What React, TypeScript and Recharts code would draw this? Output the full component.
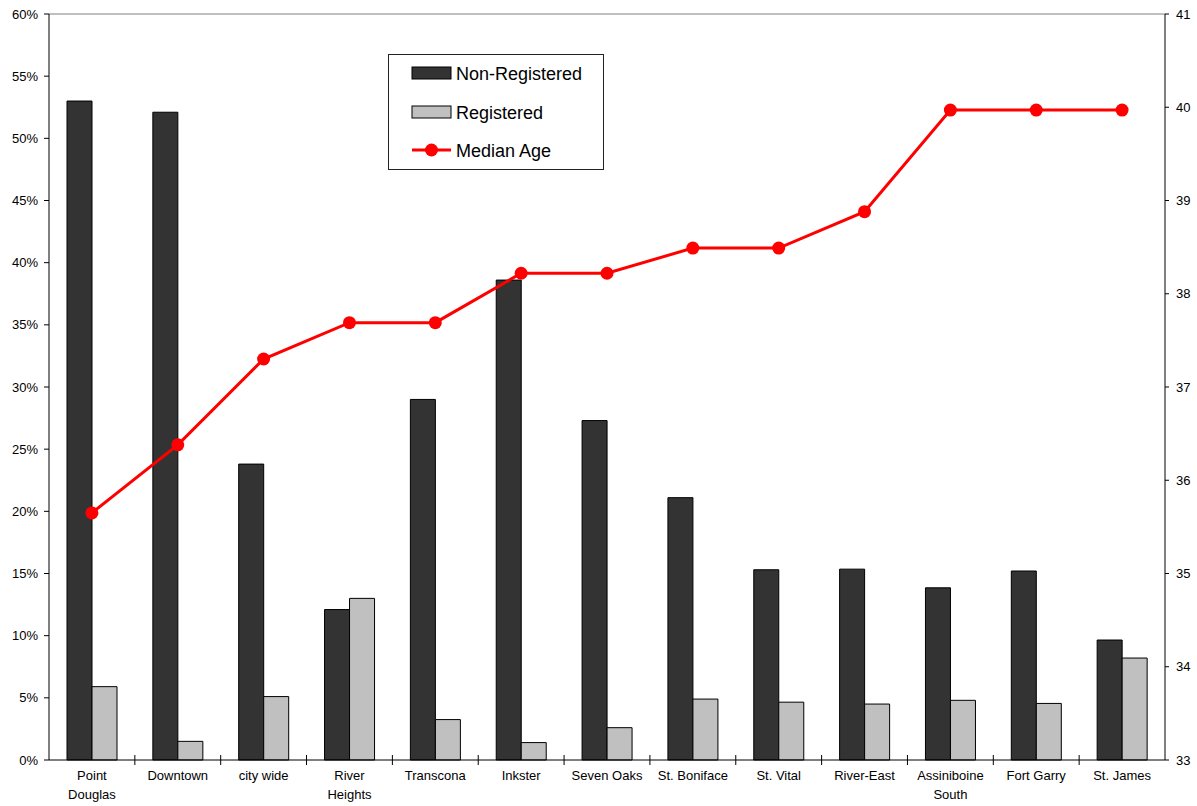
import { ComposedChart, Bar, Line, XAxis, YAxis, Legend, ReferenceLine } from 'recharts';

const areas = [
  'Point Douglas', 'Downtown', 'city wide', 'River Heights', 'Transcona', 'Inkster', 'Seven Oaks',
  'St. Boniface', 'St. Vital', 'River-East', 'Assiniboine South', 'Fort Garry', 'St. James',
];
// how each category label is broken onto lines under the axis
const tickLabels = [
  ['Point', 'Douglas'], ['Downtown'], ['city wide'], ['River', 'Heights'], ['Transcona'], ['Inkster'], ['Seven Oaks'],
  ['St. Boniface'], ['St. Vital'], ['River-East'], ['Assiniboine', 'South'], ['Fort Garry'], ['St. James'],
];
const nonRegistered = [53.0, 52.1, 23.8, 12.1, 29.0, 38.6, 27.3, 21.1, 15.3, 15.35, 13.85, 15.2, 9.65];
const registered = [5.9, 1.5, 5.1, 13.0, 3.25, 1.4, 2.6, 4.9, 4.65, 4.5, 4.8, 4.55, 8.2];
const medianAge = [35.65, 36.38, 37.3, 37.69, 37.69, 38.22, 38.22, 38.49, 38.49, 38.88, 39.97, 39.97, 39.97];

const pctTicks = [0, 5, 10, 15, 20, 25, 30, 35, 40, 45, 50, 55, 60];
const ageTicks = [33, 34, 35, 36, 37, 38, 39, 40, 41];

const chartData = areas.map((name, i) => ({
  name,
  nonReg: nonRegistered[i],
  reg: registered[i],
  age: medianAge[i],
}));

const FONT = 'Arial, "Liberation Sans", sans-serif';
const PLOT_W = 1165 - 49;
const STEP = PLOT_W / areas.length;

const CategoryTick = (props: any) => {
  const { x, y, index } = props;
  const lines = tickLabels[index] || [];
  return (
    <g>
      {index > 0 && <line x1={x - STEP / 2} x2={x - STEP / 2} y1={755} y2={765} stroke="#000" />}
      <text x={x} y={y} textAnchor="middle" fontSize={13} fontFamily={FONT} fill="#000">
        {lines.map((l: string, k: number) => (
          <tspan key={k} x={x} dy={k === 0 ? 12 : 19}>{l}</tspan>
        ))}
      </text>
    </g>
  );
};

const LegendBox = () => (
  <div style={{ border: '1px solid #222', background: '#fff', width: 214, height: 114, position: 'relative' }}>
    <svg width={214} height={114} style={{ position: 'absolute', left: 0, top: 0 }}>
      <rect x={23} y={12} width={39} height={12} fill="#333333" stroke="#000" />
      <text x={67} y={25} fontSize={18} fontFamily={FONT}>Non-Registered</text>
      <rect x={23} y={51} width={39} height={12} fill="#C0C0C0" stroke="#000" />
      <text x={67} y={64} fontSize={18} fontFamily={FONT}>Registered</text>
      <line x1={23} x2={62} y1={95} y2={95} stroke="#FF0000" strokeWidth={3} />
      <circle cx={42.5} cy={95} r={6.5} fill="#FF0000" />
      <text x={67} y={102} fontSize={18} fontFamily={FONT}>Median Age</text>
    </svg>
  </div>
);

export default function App() {
  return (
    <div style={{ position: 'absolute', left: 0, top: 0, background: '#fff' }}>
      <ComposedChart
        width={1197}
        height={806}
        data={chartData}
        margin={{ top: 14, right: 0, bottom: 0, left: 0 }}
        barGap={0}
        barCategoryGap="21%"
      >
        <XAxis
          dataKey="name"
          xAxisId="cat"
          height={46}
          interval={0}
          tick={<CategoryTick />}
          tickLine={false}
          axisLine={{ stroke: '#000' }}
        />
        <YAxis
          yAxisId="pct"
          width={49}
          domain={[0, 60]}
          ticks={pctTicks}
          tickFormatter={(v: number) => `${v}%`}
          tick={{ fontSize: 13, fontFamily: FONT, fill: '#000' }}
          tickSize={5}
          tickMargin={6}
          tickLine={{ stroke: '#000' }}
          axisLine={{ stroke: '#000' }}
        />
        <YAxis
          yAxisId="age"
          orientation="right"
          width={32}
          domain={[33, 41]}
          ticks={ageTicks}
          tick={{ fontSize: 13, fontFamily: FONT, fill: '#000' }}
          tickSize={4}
          tickMargin={7}
          tickLine={{ stroke: '#000' }}
          axisLine={{ stroke: '#000' }}
        />
        <ReferenceLine yAxisId="pct" xAxisId="cat" y={60} stroke="#808080" strokeWidth={1} />
        <Legend
          layout="horizontal"
          verticalAlign="middle"
          align="center"
          content={<LegendBox />}
          wrapperStyle={{ position: 'absolute', left: 388, top: 54, width: 216, height: 116 }}
        />
        <Bar
          xAxisId="cat"
          yAxisId="pct"
          dataKey="nonReg"
          name="Non-Registered"
          fill="#333333"
          stroke="#000"
          strokeWidth={1}
          barSize={25}
          isAnimationActive={false}
        />
        <Bar
          xAxisId="cat"
          yAxisId="pct"
          dataKey="reg"
          name="Registered"
          fill="#C0C0C0"
          stroke="#000"
          strokeWidth={1}
          barSize={25}
          isAnimationActive={false}
        />
        <Line
          xAxisId="cat"
          yAxisId="age"
          dataKey="age"
          name="Median Age"
          stroke="#FF0000"
          strokeWidth={3}
          dot={{ r: 6.5, fill: '#FF0000', stroke: '#FF0000', strokeWidth: 0 }}
          activeDot={false}
          isAnimationActive={false}
        />
      </ComposedChart>
    </div>
  );
}
